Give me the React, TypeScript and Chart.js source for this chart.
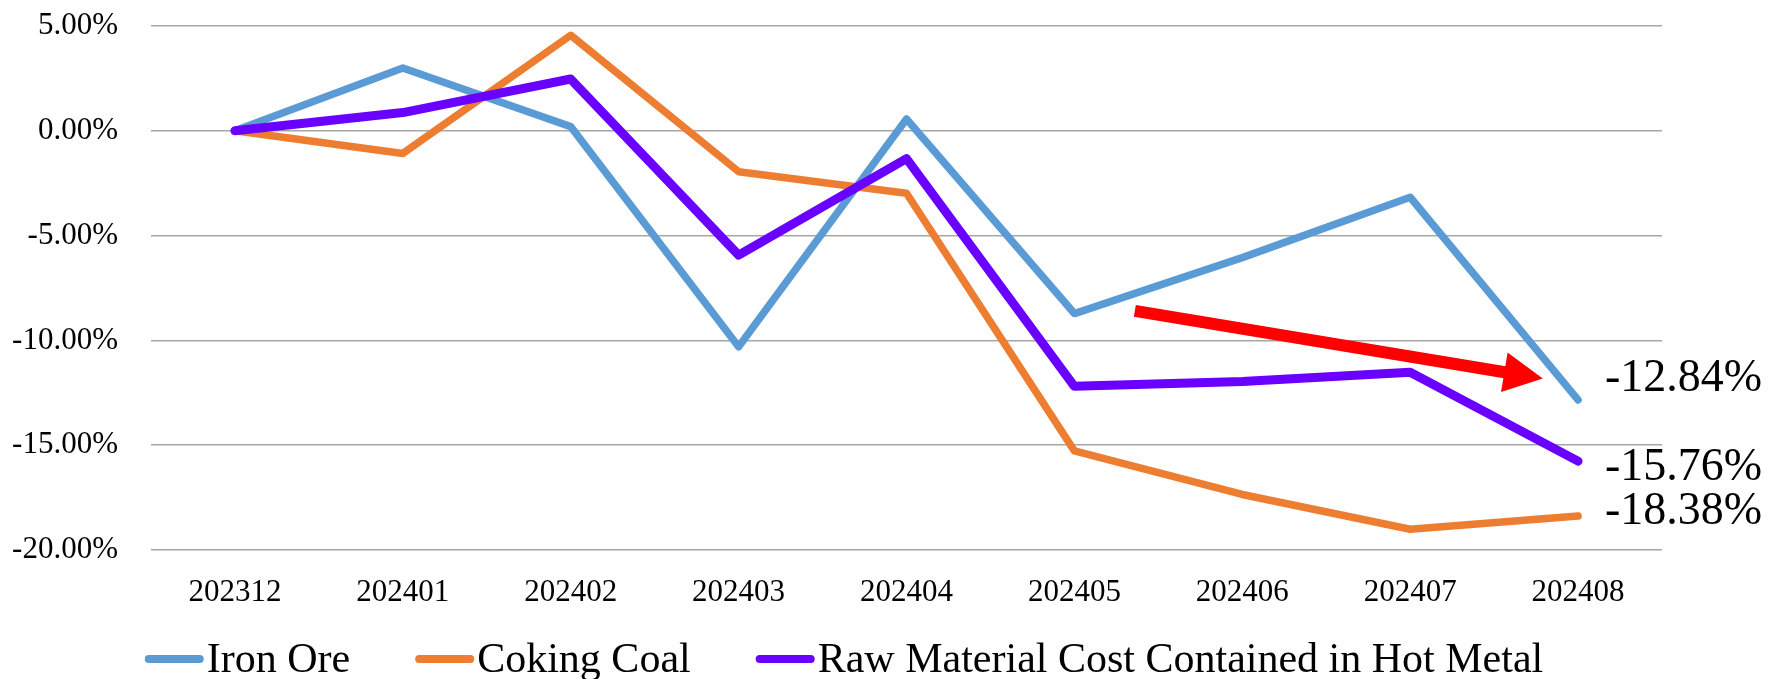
import React, { useEffect, useRef } from 'react';
import { Chart, registerables } from 'chart.js';

Chart.register(...registerables);

// ---- data ----
const categories = ['202312', '202401', '202402', '202403', '202404', '202405', '202406', '202407', '202408'];
const ironOre = [0, 3.0, 0.2, -10.3, 0.56, -8.72, -6.05, -3.17, -12.84];
const cokingCoal = [0, -1.08, 4.56, -1.95, -2.98, -15.27, -17.35, -19.01, -18.38];
const rawMaterial = [0, 0.87, 2.47, -5.93, -1.33, -12.19, -11.96, -11.52, -15.76];
const seriesNames = ['Iron Ore', 'Coking Coal', 'Raw Material Cost Contained in Hot Metal'];
const yMin = -20;
const yMax = 5;
const yStep = 5;
// trend arrow, in data units: [category index, percent]
const arrowFrom = [5.36, -8.59];
const arrowTo = [7.79, -11.82];

// ---- styles ----
const FONT = '"Liberation Serif", "Times New Roman", serif';
const colors = ['#5B9BD5', '#ED7D31', '#6A00FF'];
const widths = [7.5, 7.5, 9];
const endLabelDy = [-21, -4, 7];

const endLabelPlugin = {
  id: 'endLabels',
  afterDatasetsDraw(chart: any) {
    const ctx = chart.ctx;
    ctx.save();
    ctx.font = `46px ${FONT}`;
    ctx.fillStyle = '#000';
    ctx.textAlign = 'left';
    ctx.textBaseline = 'middle';
    chart.data.datasets.forEach((ds: any, i: number) => {
      const meta = chart.getDatasetMeta(i);
      const pt = meta.data[meta.data.length - 1];
      const v = ds.data[ds.data.length - 1];
      ctx.fillText(`${v.toFixed(2)}%`, pt.x + 27, pt.y + endLabelDy[i]);
    });
    ctx.restore();
  },
};

const arrowPlugin = {
  id: 'trendArrow',
  afterDatasetsDraw(chart: any) {
    const xs = chart.scales.x;
    const ys = chart.scales.y;
    const x1 = xs.getPixelForValue(arrowFrom[0]);
    const y1 = ys.getPixelForValue(arrowFrom[1]);
    const x2 = xs.getPixelForValue(arrowTo[0]);
    const y2 = ys.getPixelForValue(arrowTo[1]);
    const ang = Math.atan2(y2 - y1, x2 - x1);
    const headLen = 39;
    const headHalf = 20;
    const bx = x2 - headLen * Math.cos(ang);
    const by = y2 - headLen * Math.sin(ang);
    const ctx = chart.ctx;
    ctx.save();
    ctx.strokeStyle = '#FF0000';
    ctx.fillStyle = '#FF0000';
    ctx.lineWidth = 12;
    ctx.lineCap = 'butt';
    ctx.beginPath();
    ctx.moveTo(x1, y1);
    ctx.lineTo(bx + Math.cos(ang) * 2, by + Math.sin(ang) * 2);
    ctx.stroke();
    ctx.beginPath();
    ctx.moveTo(x2, y2);
    ctx.lineTo(bx - headHalf * Math.sin(ang), by + headHalf * Math.cos(ang));
    ctx.lineTo(bx + headHalf * Math.sin(ang), by - headHalf * Math.cos(ang));
    ctx.closePath();
    ctx.fill();
    ctx.restore();
  },
};

const legendPlugin = {
  id: 'customLegend',
  afterDraw(chart: any) {
    const ctx = chart.ctx;
    ctx.save();
    ctx.font = `42px ${FONT}`;
    const lineLen = 51;
    const lw = 8;
    const textGap = 7;
    const itemGap = 65;
    const items = chart.data.datasets.map((ds: any) => ({
      label: ds.label,
      color: ds.borderColor,
      w: lw / 2 + lineLen + textGap + ctx.measureText(ds.label).width,
    }));
    const total = items.reduce((s: number, it: any) => s + it.w, 0) + itemGap * (items.length - 1);
    let x = 844 - total / 2;
    const cy = 659;
    items.forEach((it: any) => {
      ctx.strokeStyle = it.color;
      ctx.lineWidth = lw;
      ctx.lineCap = 'round';
      ctx.beginPath();
      ctx.moveTo(x + lw / 2, cy);
      ctx.lineTo(x + lw / 2 + lineLen, cy);
      ctx.stroke();
      ctx.fillStyle = '#000';
      ctx.textAlign = 'left';
      ctx.textBaseline = 'alphabetic';
      ctx.fillText(it.label, x + lw / 2 + lineLen + textGap, 672);
      x += it.w + itemGap;
    });
    ctx.restore();
  },
};

export default function App() {
  const ref = useRef<HTMLCanvasElement>(null);
  useEffect(() => {
    if (!ref.current) return;
    const series = [ironOre, cokingCoal, rawMaterial];
    const chart = new Chart(ref.current, {
      type: 'line',
      data: {
        labels: categories,
        datasets: series.map((d, i) => ({
          label: seriesNames[i],
          data: d,
          borderColor: colors[i],
          backgroundColor: colors[i],
          borderWidth: widths[i],
          borderCapStyle: 'round',
          borderJoinStyle: 'round',
          pointRadius: 0,
          pointHoverRadius: 0,
          tension: 0,
          fill: false,
          order: 3 - i,
        })),
      },
      options: {
        animation: false,
        responsive: false,
        events: [],
        layout: { autoPadding: false, padding: { left: 0, right: 106, top: 26, bottom: 69 } },
        plugins: {
          legend: { display: false },
          tooltip: { enabled: false },
          title: { display: false },
        },
        scales: {
          x: {
            type: 'category',
            offset: true,
            grid: { display: false, drawTicks: false },
            border: { display: false },
            ticks: {
              color: '#000',
              font: { family: FONT, size: 31 },
              padding: 24,
              maxRotation: 0,
              autoSkip: false,
            },
            afterFit(scale: any) {
              scale.height = 60;
            },
          },
          y: {
            min: yMin,
            max: yMax,
            grid: { color: '#A6A6A6', lineWidth: 1.5, drawTicks: false },
            border: { display: false },
            ticks: {
              stepSize: yStep,
              color: '#000',
              font: { family: FONT, size: 31 },
              padding: 33,
              callback: (v: any) => `${Number(v).toFixed(2)}%`,
            },
            afterFit(scale: any) {
              scale.width = 151;
              scale.paddingTop = 0;
              scale.paddingBottom = 0;
            },
          },
        },
      },
      plugins: [arrowPlugin, endLabelPlugin, legendPlugin],
    } as any);
    return () => chart.destroy();
  }, []);
  return (
    <div style={{ position: 'fixed', left: 0, top: 0, width: 1768, height: 679, background: '#fff' }}>
      <canvas ref={ref} width={1768} height={679} style={{ display: 'block' }} />
    </div>
  );
}
